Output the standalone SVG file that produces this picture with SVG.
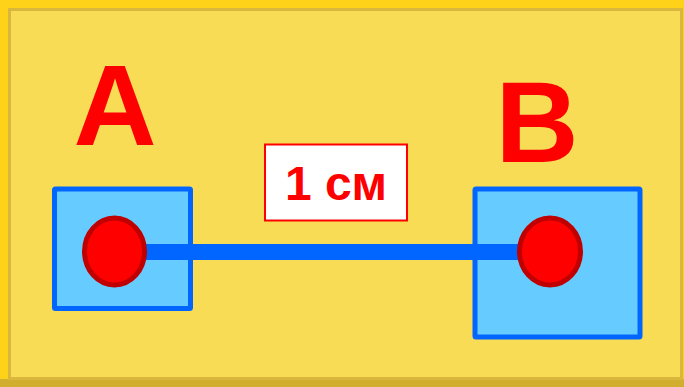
<svg xmlns="http://www.w3.org/2000/svg" width="684" height="387" viewBox="0 0 684 387">
<style>
.big{font-family:"Liberation Sans",Arial,sans-serif;font-weight:bold;fill:#FF0000;text-anchor:middle}
.box{fill:#66CCFF;stroke:#0066FF;stroke-width:5}
.pt{fill:#FF0000;stroke:#C00000;stroke-width:5}
</style>
<rect x="0" y="0" width="684" height="387" fill="#FFD21A"/>
<rect x="0" y="379" width="684" height="8" fill="#D2AE2E"/>
<rect x="9.5" y="9.5" width="672" height="369" fill="#F9DC55" stroke="#D9B63C" stroke-width="3"/>
<g id="labelA"><text class="big" x="115" y="145" font-size="115">A</text></g>
<g id="labelB"><text class="big" x="537" y="162" font-size="115">B</text></g>
<g id="boxA"><rect class="box" x="54.5" y="189" width="136" height="119.5" rx="1"/></g>
<g id="boxB"><rect class="box" x="475" y="189" width="165" height="148" rx="1"/></g>
<g id="connectors"><rect x="144" y="244" width="378" height="16" fill="#0066FF"/></g>
<g id="pointA"><ellipse class="pt" cx="114.5" cy="251.5" rx="30" ry="33.5"/></g>
<g id="pointB"><ellipse class="pt" cx="550" cy="251.5" rx="30.5" ry="33.5"/></g>
<g id="label1cm"><rect x="265" y="144.5" width="142" height="76" fill="#FFFFFF" stroke="#FF0000" stroke-width="2"/>
<text class="big" x="336" y="200" font-size="48">1 см</text></g>
</svg>
